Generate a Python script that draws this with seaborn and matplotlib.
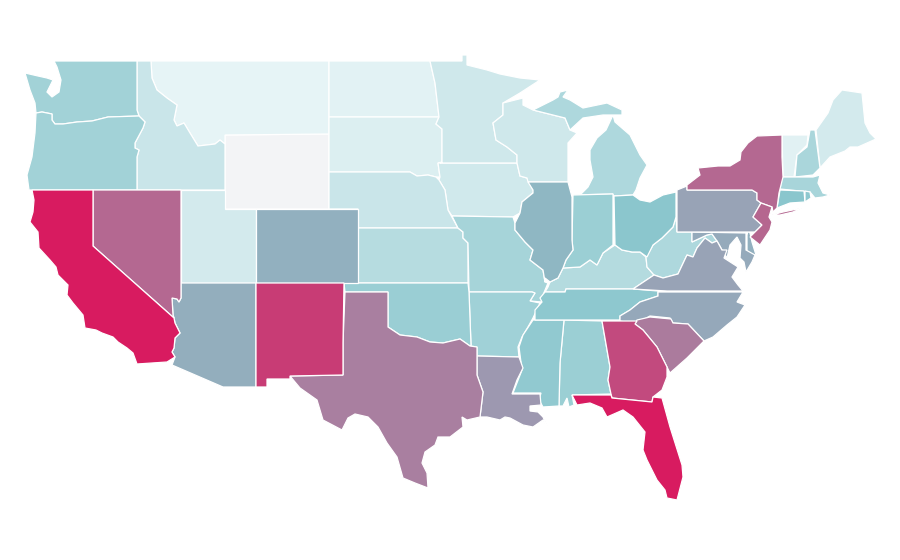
import numpy as np
import seaborn as sns
import matplotlib.pyplot as plt
from matplotlib.colors import Normalize

# state values, WY has no value and gets the grey
states = ['WY','MT','ND','VT','SD','UT','ME','IA','MN','WI','ID','NE','KS','KY','MI','MI2','WV','NH','MA',
          'MO','WA','OR','AR','IN','AL','OK','MS','TN','OH','CT','RI','IL','CO','DE','AZ','NC','MD','VA','PA',
          'LA','TX','SC','NV','NY','LI','NJ','GA','NM','CA','FL']
values = [np.nan,5,6.7,7.7,9.6,14.4,14.4,15.4,16.3,16.3,19,19,28,29,32,32,32,33.6,34.6,
          35.6,37.5,37.5,38.5,41,41,41.4,46,47,48.5,49,47,54,56,56,57,58.5,58,60,60,
          63,70.5,71.5,77,77,77,78,86,90,100,100]

# outlines, traced in picture pixels
WA = [(54,61),(137,61),(137,110),(139,116),(108,117),(92,121),(77,122),(63,124),(55,124),(52,120),(52,114),(42,112),(36,113),(35,103),(30,90),(25,73),(38,76),(47,78),(53,80),(47,92),(52,97),(59,92),(61,80),(57,67)]
OR = [(36,113),(42,112),(52,114),(52,120),(55,124),(63,124),(77,122),(92,121),(108,117),(139,116),(145,122),(143,128),(135,143),(135,148),(139,150),(137,157),(137,190),(29,190),(27,175),(32,157),(35,133)]
ID = [(137,61),(151,61),(152,78),(157,90),(167,98),(177,105),(174,120),(177,126),(184,123),(190,133),(198,146),(215,144),(220,140),(225,144),(225,190),(137,190),(137,157),(139,150),(135,148),(135,143),(143,128),(145,122),(139,116),(137,110)]
MT = [(151,61),(329,61),(329,134),(225,135),(225,144),(220,140),(215,144),(198,146),(190,133),(184,123),(177,126),(174,120),(177,105),(167,98),(157,90),(152,78)]
WY = [(225,135),(329,134),(329,209),(225,209)]
ND = [(329,61),(430,61),(435,83),(439,117),(329,117)]
SD = [(329,117),(439,117),(436,124),(442,129),(442,162),(438,163),(440,177),(436,177),(428,175),(417,176),(410,172),(329,172)]
NE = [(329,172),(410,172),(417,176),(428,175),(436,177),(439,180),(445,190),(448,210),(458,228),(358,228),(358,209),(329,209)]
KS = [(358,228),(458,228),(463,232),(463,238),(468,243),(468,283),(358,283)]
CO = [(256,209),(358,209),(358,283),(256,283)]
UT = [(181,190),(225,190),(225,209),(256,209),(256,283),(181,283)]
NV = [(93,190),(181,190),(181,298),(179,302),(177,299),(172,298),(173,315),(174,318),(93,246)]
CA = [(32,190),(93,190),(93,246),(174,318),(175,323),(180,333),(175,338),(174,348),(172,352),(175,357),(167,362),(137,364),(133,353),(127,348),(118,342),(113,337),(102,333),(96,330),(85,328),(83,315),(73,303),(67,295),(68,285),(58,275),(56,267),(50,260),(39,248),(38,232),(30,222),(33,212),(34,200)]
AZ = [(181,283),(256,283),(256,387),(223,387),(172,365),(175,357),(172,352),(174,348),(175,338),(180,333),(175,323),(174,318),(173,315),(172,298),(177,299),(179,302),(181,298)]
NM = [(256,283),(344,283),(343,343),(343,375),(290,376),(290,379),(267,379),(267,387),(256,387)]
TX = [(345,292),(388,292),(388,327),(400,335),(417,337),(430,342),(443,343),(460,339),(470,346),(477,347),(477,375),(483,392),(480,417),(467,420),(462,417),(463,427),(450,437),(438,437),(435,445),(425,452),(422,463),(427,473),(428,488),(415,483),(403,478),(397,457),(387,443),(378,427),(368,417),(355,414),(348,418),(342,430),(323,420),(317,400),(300,388),(290,376),(343,375),(343,343)]
OK = [(344,283),(468,283),(469,292),(471,345),(470,346),(460,339),(443,343),(430,342),(417,337),(400,335),(388,327),(388,292),(345,292)]
MO = [(452,216),(513,217),(515,223),(515,230),(525,242),(533,250),(530,260),(543,270),(545,282),(548,283),(543,295),(542,302),(530,301),(535,293),(532,292),(469,292),(468,243),(463,238),(463,232),(458,228)]
AR = [(469,292),(532,292),(535,293),(530,301),(540,303),(533,318),(528,327),(522,337),(518,347),(519,357),(477,356),(477,347),(470,346),(471,345)]
LA = [(477,356),(519,357),(523,368),(517,380),(512,394),(540,394),(541,405),(530,406),(530,411),(538,412),(543,417),(548,428),(543,420),(533,427),(523,425),(510,418),(505,417),(500,420),(487,417),(480,417),(483,392),(477,375)]
MS = [(533,320),(564,320),(560,363),(559,406),(543,407),(539,400),(541,393),(513,393),(522,370),(519,347),(523,335)]
AL = [(564,320),(602,321),(610,367),(608,380),(611,394),(572,395),(574,405),(569,407),(567,398),(563,406),(559,406),(560,363)]
GA = [(602,321),(637,321),(635,324),(643,330),(657,347),(667,367),(667,377),(662,390),(653,397),(652,402),(612,398),(611,394),(608,380),(610,367)]
FL = [(572,395),(611,395),(612,398),(652,402),(653,397),(662,398),(670,427),(682,465),(683,477),(677,500),(667,498),(665,490),(657,480),(647,460),(643,450),(645,432),(633,417),(623,410),(607,417),(602,408),(590,403),(577,405)]
SC = [(635,324),(637,320),(650,317),(671,319),(673,323),(688,324),(704,341),(687,358),(670,373),(667,367),(657,347),(643,330)]
NC = [(658,292),(743,292),(737,302),(745,305),(737,317),(727,325),(713,337),(704,341),(688,324),(673,323),(670,318),(650,316),(635,324),(620,321),(620,316),(630,310),(640,302),(658,296)]
TN = [(545,292),(565,292),(566,289),(633,289),(658,291),(658,296),(640,302),(630,310),(620,316),(620,320),(535,320),(535,310),(542,302),(540,298)]
KY = [(550,282),(558,278),(563,268),(580,267),(590,260),(597,265),(603,253),(615,245),(622,250),(632,252),(640,252),(646,257),(647,267),(654,275),(633,289),(566,289),(565,292),(545,292),(548,287)]
IL = [(528,182),(568,182),(572,197),(572,240),(573,250),(566,260),(563,268),(558,278),(550,282),(545,278),(545,282),(543,270),(530,260),(533,250),(525,242),(515,230),(515,223),(520,213),(522,202),(533,193),(533,190)]
IA = [(440,163),(517,163),(520,176),(527,178),(534,192),(522,202),(520,213),(513,217),(452,216),(448,210),(445,190),(439,180),(440,177),(438,163)]
MN = [(430,61),(462,61),(462,55),(467,55),(467,65),(487,70),(500,74),(520,78),(540,80),(520,93),(503,103),(503,115),(493,123),(496,140),(507,147),(517,155),(517,163),(440,163),(442,162),(442,129),(436,124),(439,117),(435,83)]
WI = [(503,103),(523,98),(523,105),(533,110),(565,118),(570,130),(577,133),(568,143),(568,182),(528,182),(527,178),(520,176),(517,163),(517,155),(507,147),(496,140),(493,123),(503,115)]
MI = [(613,115),(606,130),(597,138),(590,150),(590,160),(593,177),(588,187),(578,197),(573,195),(613,194),(613,196),(633,195),(636,190),(640,178),(647,165),(640,155),(630,135),(615,122)]
MI2 = [(533,110),(553,100),(558,97),(560,92),(568,90),(563,97),(570,100),(583,108),(607,103),(622,110),(622,115),(603,115),(583,118),(570,130),(565,118)]
IN = [(573,195),(613,194),(613,245),(603,253),(597,265),(590,260),(580,267),(563,268),(566,260),(573,250),(572,240)]
OH = [(614,196),(633,195),(640,200),(650,202),(663,195),(676,192),(676,217),(673,227),(662,238),(653,245),(647,257),(640,252),(632,252),(622,250),(615,245)]
WV = [(676,217),(677,232),(692,232),(692,242),(707,235),(712,234),(717,241),(712,243),(705,238),(697,248),(693,257),(687,255),(678,274),(663,278),(654,275),(647,267),(646,257),(653,245),(662,238),(673,227)]
PA = [(677,190),(687,186),(687,190),(752,190),(757,193),(757,200),(761,203),(753,217),(762,225),(755,232),(677,232)]
NY = [(687,190),(687,185),(700,175),(698,168),(718,166),(730,166),(740,160),(741,152),(748,143),(757,136),(782,135),(782,157),(783,177),(779,193),(777,208),(773,212),(772,207),(761,203),(757,200),(757,193),(752,190)]
LI = [(772,215),(783,212),(802,208),(793,212),(780,215)]
NJ = [(761,203),(772,207),(769,217),(772,222),(770,230),(760,245),(750,237),(755,232),(762,225),(753,217)]
VT = [(782,135),(808,135),(807,145),(797,155),(794,177),(783,177)]
NH = [(810,130),(815,130),(820,168),(813,175),(795,177),(797,155),(807,147)]
ME = [(816,130),(828,113),(833,100),(842,90),(862,93),(865,123),(870,133),(876,139),(858,147),(850,147),(845,151),(830,157),(820,168)]
MA = [(782,177),(813,177),(820,175),(818,183),(823,193),(830,195),(823,197),(815,198),(810,192),(780,189)]
CT = [(780,190),(804,191),(805,202),(790,203),(777,208)]
RI = [(805,191),(810,192),(811,198),(805,202)]
MD = [(692,232),(746,233),(746,250),(755,255),(752,262),(746,272),(744,262),(740,258),(741,245),(737,237),(730,245),(727,258),(722,250),(717,241),(712,234),(707,235),(692,242)]
DE = [(748,231),(750,233),(752,242),(756,255),(747,255),(747,235)]
VA = [(712,243),(717,241),(722,250),(727,250),(724,258),(738,267),(732,277),(738,285),(743,291),(667,291),(633,289),(654,275),(663,278),(678,274),(687,255),(693,257),(697,248),(705,238)]

outlines = dict(WA=WA, OR=OR, ID=ID, MT=MT, WY=WY, ND=ND, SD=SD, NE=NE, KS=KS, CO=CO, UT=UT, NV=NV, CA=CA, AZ=AZ,
                NM=NM, TX=TX, OK=OK, MO=MO, AR=AR, LA=LA, MS=MS, AL=AL, GA=GA, FL=FL, SC=SC, NC=NC, TN=TN, KY=KY,
                IL=IL, IA=IA, MN=MN, WI=WI, MI=MI, MI2=MI2, IN=IN, OH=OH, WV=WV, PA=PA, NY=NY, LI=LI, NJ=NJ, VT=VT,
                NH=NH, ME=ME, MA=MA, CT=CT, RI=RI, MD=MD, DE=DE, VA=VA)

sns.set_theme(style='white')
cmap = sns.blend_palette(['#f0f9fa', '#88c5cc', '#d81b60'], as_cmap=True)
cmap.set_bad('#f3f4f6')
norm = Normalize(0, 100)

f, ax = plt.subplots(figsize=(9, 5.6), dpi=100)
ax.set_position([0, 0, 1, 1])
for name, val in zip(states, values):
    xs, ys = zip(*outlines[name])
    ax.fill(xs, ys, facecolor=cmap(np.ma.masked_invalid(norm(val))), edgecolor='white', linewidth=0.9)

ax.set_xlim(0, 900)
ax.set_ylim(560, 0)
ax.axis('off')
f.savefig('out.png', dpi=100)
